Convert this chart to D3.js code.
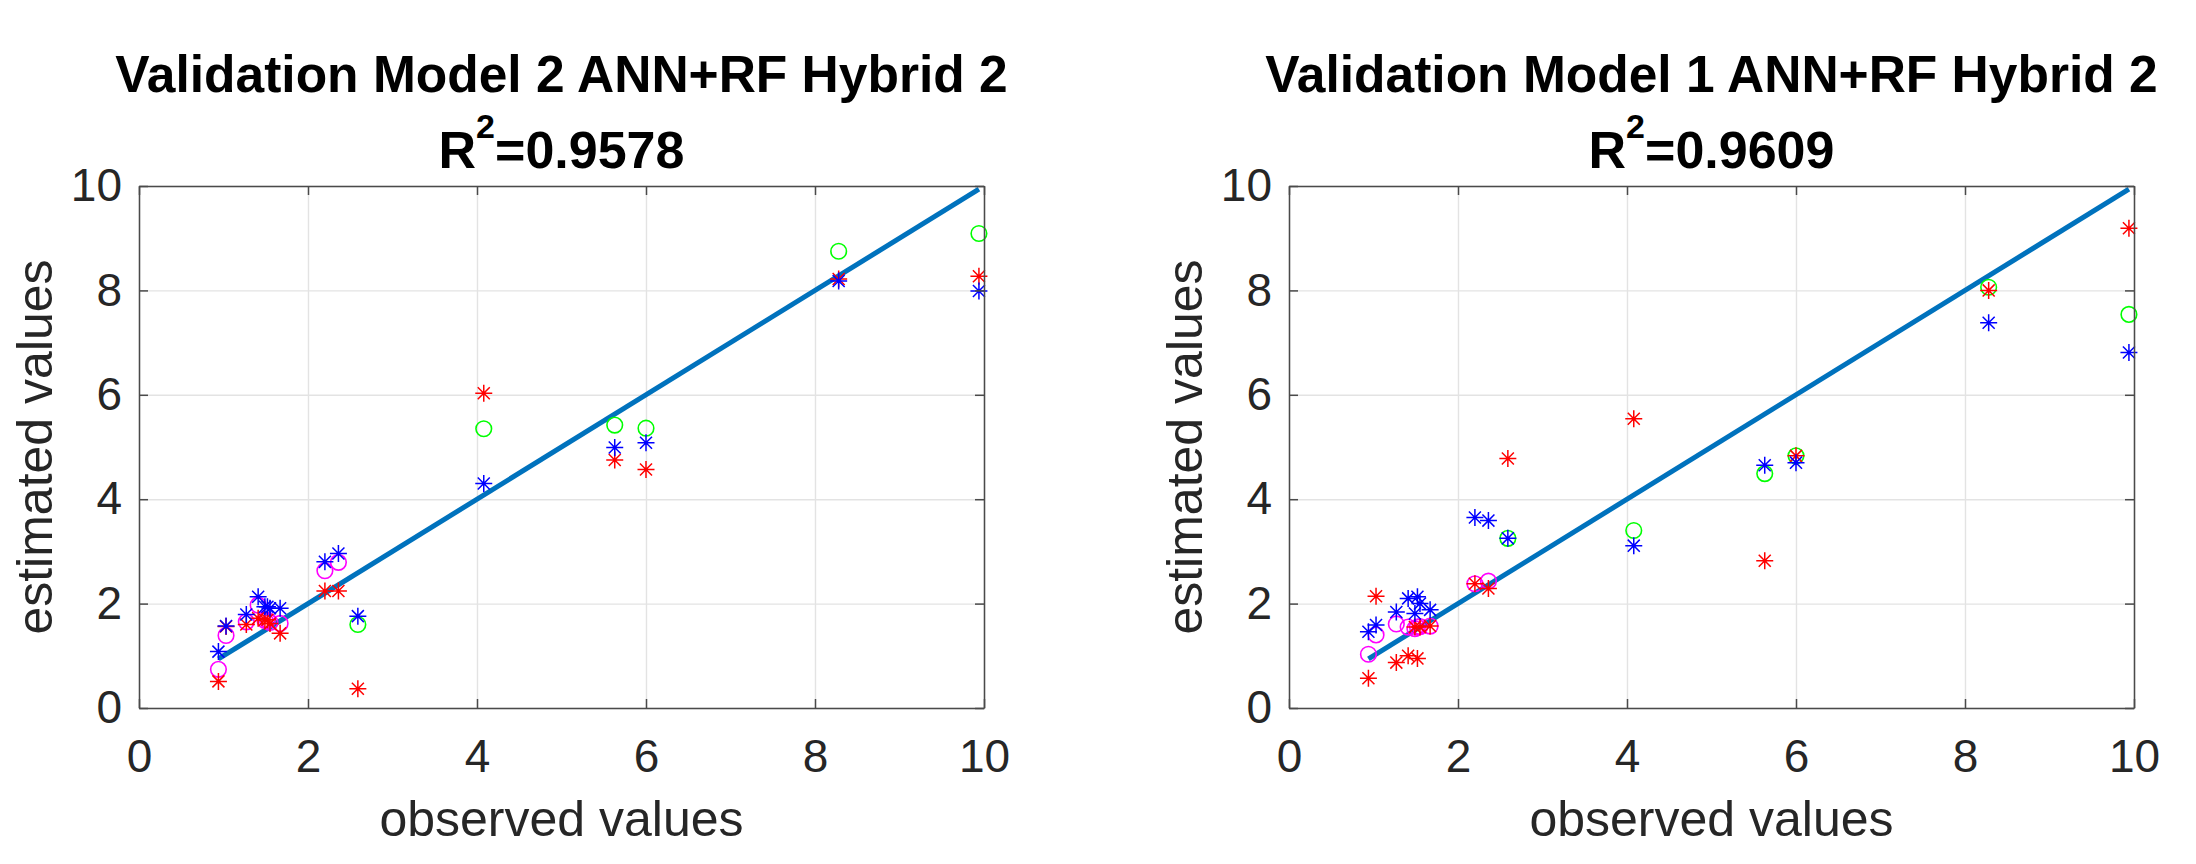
<!DOCTYPE html>
<html>
<head>
<meta charset="utf-8">
<script src="https://cdn.jsdelivr.net/npm/d3@7"></script>
<style>
  body { margin: 0; background: #fff; }
  svg { display: block; }
</style>
</head>
<body>
<svg width="2196" height="864"></svg>
<script>
// observed values (same samples in both panels)
var obsX = [0.94, 1.03, 1.27, 1.41, 1.49, 1.52, 1.55, 1.67, 2.20, 2.36, 2.59, 4.08, 5.63, 6.00, 8.28, 9.94];
// first 10 samples get magenta circles, last 6 get green circles
var obsLow = obsX.slice(0, 10);
var obsHigh = obsX.slice(10);

// Model 2 panel
var m2Red     = [0.51, 1.56, 1.60, 1.72, 1.69, 1.69, 1.62, 1.43, 2.24, 2.24, 0.37, 6.03, 4.75, 4.57, 8.22, 8.27];
var m2Blue    = [1.08, 1.57, 1.79, 2.13, 1.94, 1.94, 1.91, 1.91, 2.80, 2.96, 1.76, 4.30, 4.99, 5.08, 8.18, 7.99];
var m2Magenta = [0.74, 1.39, 1.65, 1.97, 1.68, 1.68, 1.64, 1.62, 2.63, 2.79];
var m2Green   = [1.60, 5.35, 5.42, 5.36, 8.75, 9.09];

// Model 1 panel
var m1Red     = [0.57, 2.14, 0.87, 1.00, 1.55, 0.95, 1.55, 1.57, 2.38, 2.29, 4.78, 5.54, 2.82, 4.83, 8.00, 9.19];
var m1Blue    = [1.46, 1.59, 1.84, 2.10, 1.81, 2.13, 2.00, 1.88, 3.65, 3.59, 3.25, 3.11, 4.65, 4.70, 7.38, 6.81];
var m1Magenta = [1.03, 1.40, 1.61, 1.55, 1.52, 1.55, 1.56, 1.57, 2.38, 2.43];
var m1Green   = [3.25, 3.40, 4.49, 4.83, 8.06, 7.54];

// 1:1 reference line
var refX = [0.94, 9.94];

var ticks = [0, 2, 4, 6, 8, 10];

var panels = [
    {left: 139, title: 'Validation Model 2 ANN+RF Hybrid 2', r2: '0.9578',
     red: m2Red, blue: m2Blue, magenta: m2Magenta, green: m2Green},
    {left: 1289, title: 'Validation Model 1 ANN+RF Hybrid 2', r2: '0.9609',
     red: m1Red, blue: m1Blue, magenta: m1Magenta, green: m1Green}
];

var svg = d3.select('svg');
var W = 845, yTop = 186, yBottom = 708;
var font = 'Liberation Sans, Arial, Helvetica, sans-serif';

function asterisk(s) {
    var a = s * 0.7071;
    return 'M' + (-s) + ',0L' + s + ',0M0,' + (-s) + 'L0,' + s +
        'M' + (-a) + ',' + (-a) + 'L' + a + ',' + a +
        'M' + (-a) + ',' + a + 'L' + a + ',' + (-a);
}

panels.forEach(function(p) {
    var x = d3.scaleLinear().domain([0, 10]).range([p.left, p.left + W]);
    var y = d3.scaleLinear().domain([0, 10]).range([yBottom, yTop]);
    var g = svg.append('g');

    // grid
    g.append('g')
        .attr('transform', 'translate(0,' + yBottom + ')')
        .call(d3.axisBottom(x).tickValues(ticks).tickSize(-(yBottom - yTop)).tickFormat(''))
        .call(function(s) { s.select('.domain').remove(); })
        .selectAll('line').attr('stroke', '#e3e3e3').attr('stroke-width', 1.4);
    g.append('g')
        .attr('transform', 'translate(' + p.left + ',0)')
        .call(d3.axisLeft(y).tickValues(ticks).tickSize(-W).tickFormat(''))
        .call(function(s) { s.select('.domain').remove(); })
        .selectAll('line').attr('stroke', '#e3e3e3').attr('stroke-width', 1.4);

    // reference line
    g.append('path')
        .datum(refX)
        .attr('d', d3.line().x(function(d) { return x(d); }).y(function(d) { return y(d); }))
        .attr('stroke', '#0072BD')
        .attr('stroke-width', 5)
        .attr('fill', 'none');

    // circles
    g.selectAll('circle.mag')
        .data(obsLow)
        .enter().append('circle')
        .attr('class', 'mag')
        .attr('cx', function(d) { return x(d); })
        .attr('cy', function(d, i) { return y(p.magenta[i]); })
        .attr('r', 7.8)
        .attr('fill', 'none')
        .attr('stroke', '#ff00ff')
        .attr('stroke-width', 1.6);
    g.selectAll('circle.grn')
        .data(obsHigh)
        .enter().append('circle')
        .attr('class', 'grn')
        .attr('cx', function(d) { return x(d); })
        .attr('cy', function(d, i) { return y(p.green[i]); })
        .attr('r', 7.8)
        .attr('fill', 'none')
        .attr('stroke', '#00ff00')
        .attr('stroke-width', 1.6);

    // asterisks
    g.selectAll('path.red')
        .data(obsX)
        .enter().append('path')
        .attr('class', 'red')
        .attr('transform', function(d, i) { return 'translate(' + x(d) + ',' + y(p.red[i]) + ')'; })
        .attr('d', asterisk(8.5))
        .attr('stroke', '#ff0000')
        .attr('stroke-width', 1.5);
    g.selectAll('path.blue')
        .data(obsX)
        .enter().append('path')
        .attr('class', 'blue')
        .attr('transform', function(d, i) { return 'translate(' + x(d) + ',' + y(p.blue[i]) + ')'; })
        .attr('d', asterisk(8.5))
        .attr('stroke', '#0000ff')
        .attr('stroke-width', 1.5);

    // box + inward ticks
    var axisColor = '#4a4a4a';
    var xb = g.append('g')
        .attr('transform', 'translate(0,' + yBottom + ')')
        .call(d3.axisBottom(x).tickValues(ticks).tickSize(-9).tickPadding(31).tickSizeOuter(0));
    var yl = g.append('g')
        .attr('transform', 'translate(' + p.left + ',0)')
        .call(d3.axisLeft(y).tickValues(ticks).tickSize(-9).tickPadding(17).tickSizeOuter(0));
    var xt = g.append('g')
        .attr('transform', 'translate(0,' + yTop + ')')
        .call(d3.axisTop(x).tickValues(ticks).tickSize(-9).tickFormat('').tickSizeOuter(0));
    var yr = g.append('g')
        .attr('transform', 'translate(' + (p.left + W) + ',0)')
        .call(d3.axisRight(y).tickValues(ticks).tickSize(-9).tickFormat('').tickSizeOuter(0));

    [xb, yl, xt, yr].forEach(function(a) {
        a.select('.domain').attr('stroke', axisColor).attr('stroke-width', 1.5);
        a.selectAll('line').attr('stroke', axisColor).attr('stroke-width', 1.5);
        a.selectAll('text')
            .attr('fill', '#262626')
            .attr('font-family', font)
            .attr('font-size', 46);
    });

    // axis labels
    g.append('text')
        .attr('x', p.left + W / 2)
        .attr('y', 836)
        .attr('text-anchor', 'middle')
        .attr('font-family', font)
        .attr('font-size', 50)
        .attr('fill', '#262626')
        .text('observed values');

    g.append('text')
        .attr('transform', 'translate(' + (p.left - 87) + ',' + ((yTop + yBottom) / 2) + ') rotate(-90)')
        .attr('text-anchor', 'middle')
        .attr('font-family', font)
        .attr('font-size', 50)
        .attr('fill', '#262626')
        .text('estimated values');

    // title
    g.append('text')
        .attr('x', p.left + W / 2)
        .attr('y', 92)
        .attr('text-anchor', 'middle')
        .attr('font-family', font)
        .attr('font-size', 51.5)
        .attr('font-weight', 'bold')
        .attr('fill', '#000')
        .text(p.title);

    var t2 = g.append('text')
        .attr('x', p.left + W / 2)
        .attr('y', 168)
        .attr('text-anchor', 'middle')
        .attr('font-family', font)
        .attr('font-size', 52)
        .attr('font-weight', 'bold')
        .attr('fill', '#000');
    t2.append('tspan').text('R');
    t2.append('tspan').attr('dy', -30).attr('font-size', 34).text('2');
    t2.append('tspan').attr('dy', 30).text('=' + p.r2);
});
</script>
</body>
</html>
